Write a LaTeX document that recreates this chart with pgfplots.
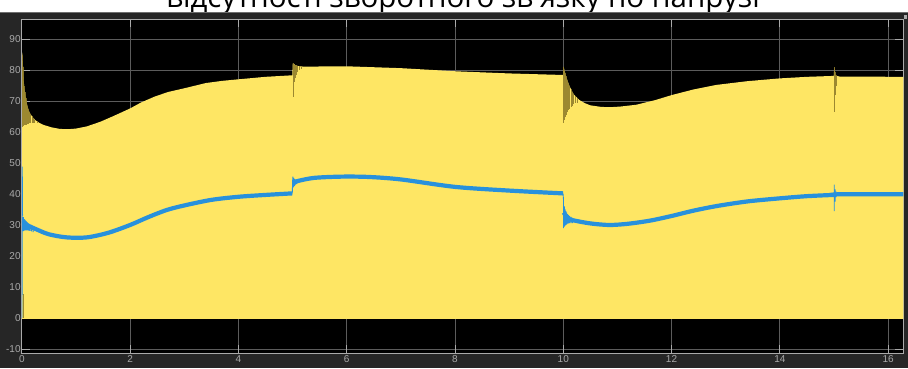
\documentclass[border=0pt]{standalone}
\usepackage{fontspec}
\setmainfont{Liberation Sans}
\newfontfamily\titlefont{Open Sans}
\usepackage{pgfplots}
\pgfplotsset{compat=1.18}

\definecolor{scopebg}{RGB}{38,38,38}
\definecolor{scopeedge}{RGB}{110,110,110}
\definecolor{scopegrid}{RGB}{92,92,92}
\definecolor{scopeaxis}{RGB}{170,170,170}
\definecolor{scopetext}{RGB}{170,170,170}
\definecolor{pwmyellow}{RGB}{254,230,100}
\definecolor{pwmedge}{RGB}{140,120,40}
\definecolor{vblue}{RGB}{40,145,220}

\begin{document}
\begin{tikzpicture}[x=1pt,y=1pt]
\path[use as bounding box] (0,0) rectangle (908,368);
\clip (0,0) rectangle (908,368);
\fill[white] (0,0) rectangle (908,368);
% figure title (upper part lies above the page)
\node[anchor=base, inner sep=0pt, font=\titlefont\fontsize{29.5}{32}\selectfont, text=black]
  at (463,360) {відсутності зворотного зв'язку по напрузі};
% scope frame
\fill[scopebg] (0,0) rectangle (908,356);
\draw[scopeedge, line width=1.2pt] (0,355.6) -- (908,355.6);

\begin{axis}[
  at={(21.8pt,14.7pt)}, anchor=south west,
  scale only axis, width=881.5pt, height=333.8pt,
  xmin=0, xmax=16.28, ymin=-11.4, ymax=96.3,
  axis background/.style={fill=black},
  axis line style={scopeaxis, line width=0.8pt},
  grid=major, major grid style={scopegrid, line width=0.8pt},
  xtick={0,2,...,16}, ytick={-10,0,...,90},
  tick align=inside, major tick length=8pt,
  tick style={scopeaxis, line width=0.8pt},
  ticklabel style={font=\fontsize{10}{11}\selectfont, text=scopetext},
  yticklabel style={inner sep=1pt},
  xticklabel style={inner sep=1.5pt, yshift=-1pt},
  /pgf/number format/assume math mode=true,
  unbounded coords=jump,
]
% PWM output: filled between its lower level and the upper envelope
\addplot[fill=pwmyellow, draw=none] coordinates {
  (0.004,-0.3) (0.006,85.7) (0.015,84) (0.025,80) (0.035,76.5) (0.05,74)
  (0.07,71.5) (0.09,69.5) (0.11,68) (0.13,66.8) (0.16,65.8) (0.20,64.8)
  (0.25,63.8) (0.32,63.0) (0.40,62.3) (0.55,61.5) (0.70,61.0) (0.85,60.9)
  (1.00,61.1) (1.20,61.8) (1.45,63.3) (1.70,65.2) (2.00,67.6) (2.20,69.5)
  (2.45,71.4) (2.70,72.9) (3.00,74.1) (3.40,75.8) (3.70,76.5) (4.00,77.0)
  (4.50,77.8) (4.995,78.3) (5.005,82.2) (5.05,81.6) (5.10,81.3) (5.20,81.1)
  (6.00,81.2) (7.00,80.6) (8.00,79.6) (9.00,78.9) (9.995,78.4) (10.005,81.1)
  (10.05,78) (10.10,75.5) (10.15,73.5) (10.20,72) (10.30,70.3) (10.40,69.3)
  (10.50,68.6) (10.70,68.1) (10.86,68.0) (11.05,68.2) (11.35,68.8) (11.70,70.3)
  (12.00,71.9) (12.40,73.7) (12.83,75.2) (13.40,76.4) (14.00,77.3) (14.50,77.8)
  (14.995,78.1) (15.005,80.9) (15.03,78.2) (15.10,77.9) (16.28,77.8) (16.28,-0.3)
} -- cycle;
% pulse gaps visible during the transients
\addplot[pwmedge, line width=0.6pt, opacity=0.85] coordinates {
  (0.012,85.0) (0.012,61.5) (0.012,nan)
  (0.022,81.0) (0.022,61.8) (0.022,nan)
  (0.032,77.5) (0.032,62.0) (0.032,nan)
  (0.045,74.8) (0.045,62.2) (0.045,nan)
  (0.06,72.8) (0.06,62.2) (0.06,nan)
  (0.075,71.0) (0.075,62.4) (0.075,nan)
  (0.09,69.5) (0.09,62.5) (0.09,nan)
  (0.105,68.3) (0.105,62.6) (0.105,nan)
  (0.12,67.3) (0.12,62.7) (0.12,nan)
  (0.14,66.5) (0.14,62.8) (0.14,nan)
  (0.16,65.8) (0.16,62.9) (0.16,nan)
  (0.185,65.2) (0.185,63.0) (0.185,nan)
  (0.21,64.6) (0.21,63.0) (0.21,nan)
  (0.24,64.0) (0.24,63.0) (0.24,nan)
  (0.28,63.4) (0.28,62.8) (0.28,nan)
  (0.02,0) (0.02,7.7) (0.02,nan)
  (5.005,82.2) (5.005,71.4) (5.005,nan)
  (5.02,81.9) (5.02,74) (5.02,nan)
  (5.035,81.7) (5.035,76) (5.035,nan)
  (5.05,81.6) (5.05,77.5) (5.05,nan)
  (5.07,81.4) (5.07,78.5) (5.07,nan)
  (5.09,81.3) (5.09,79.3) (5.09,nan)
  (5.12,81.2) (5.12,80) (5.12,nan)
  (5.16,81.1) (5.16,80.4) (5.16,nan)
  (10.005,81.1) (10.005,62.8) (10.005,nan)
  (10.02,80) (10.02,64) (10.02,nan)
  (10.035,79) (10.035,65) (10.035,nan)
  (10.05,78) (10.05,65.5) (10.05,nan)
  (10.065,77.2) (10.065,66) (10.065,nan)
  (10.08,76.4) (10.08,66.5) (10.08,nan)
  (10.10,75.5) (10.10,67) (10.10,nan)
  (10.12,74.7) (10.12,67.5) (10.12,nan)
  (10.14,73.9) (10.14,68) (10.14,nan)
  (10.165,73) (10.165,68.5) (10.165,nan)
  (10.19,72.2) (10.19,69) (10.19,nan)
  (10.22,71.5) (10.22,69.3) (10.22,nan)
  (10.26,70.9) (10.26,69.5) (10.26,nan)
  (15.005,80.9) (15.005,66.5) (15.005,nan)
  (15.02,79.5) (15.02,72) (15.02,nan)
  (15.04,78.5) (15.04,75)
};
% averaged output voltage, one smooth piece per load interval
\addplot[vblue, line width=4.2pt, smooth] coordinates {
  (0.02,31.5) (0.1,30) (0.27,28.6) (0.5,27.0) (0.83,26.0) (1.2,26.0)
  (1.6,27.5) (2.0,30.0) (2.33,32.5) (2.67,34.8) (3.0,36.3) (3.5,38.1)
  (4.0,39.1) (4.5,39.7) (4.995,40.2)
};
\addplot[vblue, line width=4.2pt, smooth] coordinates {
  (5.01,43.6) (5.1,44.2) (5.4,45.2) (5.9,45.6) (6.4,45.5) (7.0,44.7)
  (8.0,42.3) (9.0,41.1) (9.995,40.2)
};
\addplot[vblue, line width=4.2pt, smooth] coordinates {
  (10.01,34) (10.1,32) (10.3,31.1) (10.55,30.4) (10.86,30.0) (11.2,30.4)
  (11.6,31.4) (12.0,32.9) (12.4,34.6) (12.83,36.1) (13.4,37.6) (14.0,38.6)
  (14.5,39.3) (14.995,39.7)
};
\addplot[vblue, line width=4.2pt, smooth] coordinates {
  (14.995,39.7) (15.1,39.9) (16.28,39.9)
};
% start-up and transient ripple of the output voltage
\addplot[vblue, line width=0.9pt] coordinates {
  (0.004,0) (0.008,48.8) (0.014,33) (0.014,nan)
  (0.03,32.5) (0.03,28.0) (0.03,nan)
  (0.045,31.8) (0.045,28.2) (0.045,nan)
  (0.06,31.3) (0.06,28.3) (0.06,nan)
  (0.075,31) (0.075,28.3) (0.075,nan)
  (0.09,30.7) (0.09,28.3) (0.09,nan)
  (0.11,30.4) (0.11,28.3) (0.11,nan)
  (0.13,30.1) (0.13,28.2) (0.13,nan)
  (0.155,29.8) (0.155,28.1) (0.155,nan)
  (0.18,29.5) (0.18,27.9) (0.18,nan)
  (0.21,29.2) (0.21,27.7) (0.21,nan)
  (4.995,40.2) (5.005,45.6) (5.005,42.0) (5.005,nan)
  (5.02,45.2) (5.02,42.3) (5.02,nan)
  (5.035,44.9) (5.035,42.6) (5.035,nan)
  (5.05,44.7) (5.05,42.9) (5.05,nan)
  (5.07,44.6) (5.07,43.2) (5.07,nan)
  (5.09,44.5) (5.09,43.5) (5.09,nan)
  (9.995,40.2) (10.005,38) (10.005,29.0) (10.005,nan)
  (10.02,36) (10.02,29.5) (10.02,nan)
  (10.035,35) (10.035,29.8) (10.035,nan)
  (10.05,34.5) (10.05,30) (10.05,nan)
  (10.065,34) (10.065,30.2) (10.065,nan)
  (10.08,33.5) (10.08,30.4) (10.08,nan)
  (10.10,33.2) (10.10,30.5) (10.10,nan)
  (10.12,32.9) (10.12,30.6) (10.12,nan)
  (10.145,32.6) (10.145,30.6) (10.145,nan)
  (10.17,32.3) (10.17,30.6) (10.17,nan)
  (15.005,43) (15.005,34.5) (15.005,nan)
  (15.02,41.5) (15.02,37.5) (15.02,nan)
  (15.04,40.8) (15.04,39)
};
\end{axis}
\fill[scopeaxis] (903.6,349.5) rectangle (907,353.5);
\end{tikzpicture}
\end{document}
